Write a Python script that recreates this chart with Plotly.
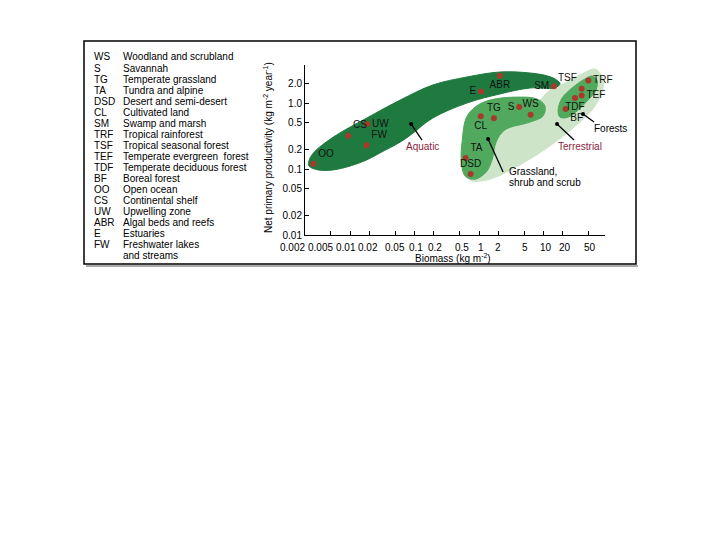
import numpy as np
import plotly.graph_objects as go

# ---------------- data ----------------
codes = ["OO", "CS", "UW", "FW", "ABR", "E", "SM", "TRF", "TSF", "TEF", "TDF", "BF",
         "S", "WS", "TG", "CL", "TA", "DSD"]
biomass = [0.0027, 0.0094, 0.0185, 0.018, 2.1, 1.07, 14.5, 49.5, 39, 39, 30.7, 22,
           4.2, 6.3, 1.7, 1.06, 0.62, 0.74]
npp = [0.12, 0.32, 0.48, 0.23, 2.6, 1.5, 1.8, 2.2, 1.65, 1.3, 1.19, 0.81,
       0.87, 0.665, 0.59, 0.63, 0.147, 0.084]
label_pos = ["top right", "top right", "middle right", "top right", "bottom center",
             "middle left", "middle left", "middle right", "top left", "middle right",
             "bottom center", "bottom right", "middle left", "top center", "top center",
             "bottom center", "top right", "top center"]

legend_codes = ["WS", "S", "TG", "TA", "DSD", "CL", "SM", "TRF", "TSF", "TEF", "TDF",
                "BF", "OO", "CS", "UW", "ABR", "E", "FW", ""]
legend_names = ["Woodland and scrubland", "Savannah", "Temperate grassland",
                "Tundra and alpine", "Desert and semi-desert", "Cultivated land",
                "Swamp and marsh", "Tropical rainforest", "Tropical seasonal forest",
                "Temperate evergreen  forest", "Temperate deciduous forest",
                "Boreal forest", "Open ocean", "Continental shelf", "Upwelling zone",
                "Algal beds and reefs", "Estuaries", "Freshwater lakes", "and streams"]

x_ticks = [0.002, 0.005, 0.01, 0.02, 0.05, 0.1, 0.2, 0.5, 1, 2, 5, 10, 20, 50]
x_ticktext = ["0.002", "0.005", "0.01", "0.02", "0.05", "0.1", "0.2", "0.5", "1", "2",
              "5", "10", "20", "50"]
y_ticks = [0.01, 0.02, 0.05, 0.1, 0.2, 0.5, 1, 2]
y_ticktext = ["0.01", "0.02", "0.05", "0.1", "0.2", "0.5", "1.0", "2.0"]

# region outlines (biomass, productivity)
aquatic_x = [0.0023, 0.0027, 0.0055, 0.018, 0.060, 0.19, 0.65, 2.1, 6.2, 11.7, 16, 18,
             14.5, 6.2, 2.1, 0.65, 0.19, 0.091, 0.060, 0.029, 0.018, 0.010, 0.0055,
             0.0032, 0.0023]
aquatic_y = [0.132, 0.175, 0.305, 0.59, 1.11, 1.87, 2.48, 2.95, 2.85, 2.56, 2.23, 1.94,
             1.69, 1.69, 1.37, 1.0, 0.59, 0.34, 0.256, 0.175, 0.137, 0.111, 0.097,
             0.097, 0.111]
terr_x = [63, 80, 84, 70, 53, 32, 16.8, 8.2, 4.0, 1.97, 1.11, 0.72, 0.87, 1.48, 4.3,
          8.8, 12.6, 21.5, 39.5]
terr_y = [3.27, 2.56, 1.69, 1.07, 0.73, 0.46, 0.275, 0.169, 0.111, 0.078, 0.066, 0.068,
          0.115, 0.275, 0.59, 1.11, 1.57, 2.01, 2.75]
grass_x = [0.63, 0.87, 1.48, 3.9, 7.9, 10.5, 9.8, 6.2, 2.5, 1.84, 1.59, 1.29, 0.87,
           0.61, 0.53, 0.55]
grass_y = [0.59, 0.87, 1.11, 1.23, 1.15, 0.90, 0.635, 0.515, 0.39, 0.256, 0.137, 0.090,
           0.070, 0.078, 0.137, 0.275]
forest_x = [16.8, 19.4, 27.7, 41, 56.5, 67.5, 65, 49, 34.3, 24, 18]
forest_y = [0.78, 1.19, 1.69, 2.23, 2.56, 2.23, 1.57, 1.11, 0.78, 0.61, 0.61]

# callouts
callout_text = ["Aquatic", "Terrestrial", "Forests"]
callout_x = [0.134, 36.8, 56.5]
callout_y = [0.223, 0.223, 0.418]
callout_anchor = ["center", "center", "left"]
callout_color = ["#8b1c3c", "#8b1c3c", "#000000"]
grass_text = ["Grassland,", "shrub and scrub"]
grass_text_x = [2.72, 2.72]
grass_text_y = [0.093, 0.0635]

# pointer lines: tip -> tail (biomass, productivity)
arrow_tip_x = [0.0883, 16.2, 40.9, 1.38]
arrow_tip_y = [0.481, 0.481, 0.681, 0.285]
arrow_tail_x = [0.1306, 29.7, 60.7, 2.36]
arrow_tail_y = [0.275, 0.275, 0.515, 0.090]

# ---------------- figure ----------------
FONT = "Liberation Sans, Arial, sans-serif"
DARK, MID, LIGHT, DOT = "#1f7a40", "#50a95c", "#cde4c9", "#a83a2c"

fig = go.Figure()
for xs, ys, col in [(terr_x, terr_y, LIGHT), (aquatic_x, aquatic_y, DARK),
                    (grass_x, grass_y, MID), (forest_x, forest_y, MID)]:
    fig.add_trace(go.Scatter(x=xs + [xs[0]], y=ys + [ys[0]], mode="lines",
                             fill="toself", fillcolor=col,
                             line=dict(color=col, width=1, shape="spline", smoothing=1.0),
                             hoverinfo="skip"))

# pointer lines
lx, ly = [], []
for a, b, c, d in zip(arrow_tip_x, arrow_tip_y, arrow_tail_x, arrow_tail_y):
    lx += [a, c, None]
    ly += [b, d, None]
fig.add_trace(go.Scatter(x=lx, y=ly, mode="lines", line=dict(color="#000", width=1.3),
                         hoverinfo="skip", cliponaxis=False))
fig.add_trace(go.Scatter(x=arrow_tip_x, y=arrow_tip_y, mode="markers",
                         marker=dict(color="#000", size=4), hoverinfo="skip"))

fig.add_trace(go.Scatter(x=biomass, y=npp, mode="markers+text", text=codes,
                         textposition=label_pos,
                         textfont=dict(family=FONT, size=10, color="#111"),
                         marker=dict(color=DOT, size=6), cliponaxis=False))

ann = []
for t, x, y, a, c in zip(callout_text, callout_x, callout_y, callout_anchor, callout_color):
    ann.append(dict(x=np.log10(x), y=np.log10(y), text=t, showarrow=False, xanchor=a,
                    yanchor="middle", font=dict(family=FONT, size=10, color=c)))
for t, x, y in zip(grass_text, grass_text_x, grass_text_y):
    ann.append(dict(x=np.log10(x), y=np.log10(y), text=t, showarrow=False, xanchor="left",
                    yanchor="middle", font=dict(family=FONT, size=10, color="#000")))

# layout geometry (reference pixel frame; page body adds an 8px offset)
OFF = 8
L, R, T, B = 305, 605, 65, 235
W, H = R - L, B - T
def px(x): return (x - L) / W
def py(y): return (B - y) / H

# x tick labels (slightly nudged as in the original artwork)
x_label_shift = [-13, -10, -4, -1, 0, 1, 1, 2, 2, 0, 1, 2, 2, 1]
for v, t, s in zip(x_ticks, x_ticktext, x_label_shift):
    ann.append(dict(x=np.log10(v), xref="x", yref="paper", y=py(247), text=t,
                    showarrow=False, xshift=s, xanchor="center", yanchor="middle",
                    font=dict(family=FONT, size=10, color="#000")))

for i, (c, n) in enumerate(zip(legend_codes, legend_names)):
    yy = py(57 + 11 * i)
    if c:
        ann.append(dict(xref="paper", yref="paper", x=px(92), y=yy, text=c, showarrow=False,
                        xanchor="left", yanchor="middle",
                        font=dict(family=FONT, size=10, color="#000")))
    ann.append(dict(xref="paper", yref="paper", x=px(121), y=yy, text=n, showarrow=False,
                    xanchor="left", yanchor="middle",
                    font=dict(family=FONT, size=10, color="#000")))

ann.append(dict(xref="paper", yref="paper", x=px(268), y=py(148), textangle=-90,
                xanchor="center", yanchor="middle",
                text="Net primary productivity (kg m<sup>-2</sup> year<sup>-1</sup>)",
                showarrow=False, font=dict(family=FONT, size=10, color="#000")))
ann.append(dict(xref="paper", yref="paper", x=px(453), y=py(258),
                xanchor="center", yanchor="middle",
                text="Biomass (kg m<sup>-2</sup>)", showarrow=False,
                font=dict(family=FONT, size=10, color="#000")))

shapes = [
    dict(type="line", xref="paper", yref="paper", x0=px(86), x1=px(638), y0=py(266),
         y1=py(266), line=dict(color="#aaaaaa", width=2)),
    dict(type="rect", xref="paper", yref="paper", x0=px(84), x1=px(636), y0=py(264),
         y1=py(41), line=dict(color="#000", width=1.5)),
]

axis_common = dict(showgrid=False, zeroline=False, showline=True, linecolor="#000",
                   linewidth=1, ticks="inside", ticklen=4, tickcolor="#000",
                   tickfont=dict(family=FONT, size=10, color="#000"))

fig.update_layout(
    width=720 - OFF, height=540 - OFF,
    margin=dict(l=L - OFF, r=720 - R, t=T - OFF, b=540 - B, autoexpand=False),
    paper_bgcolor="white", plot_bgcolor="white", showlegend=False,
    xaxis=dict(type="log", range=[np.log10(0.002), 1.953], tickvals=x_ticks,
               showticklabels=False, **axis_common),
    yaxis=dict(type="log", range=[-2, 0.576], tickvals=y_ticks, ticktext=y_ticktext,
               **axis_common),
    annotations=ann, shapes=shapes,
)

fig.write_html("out.html")
